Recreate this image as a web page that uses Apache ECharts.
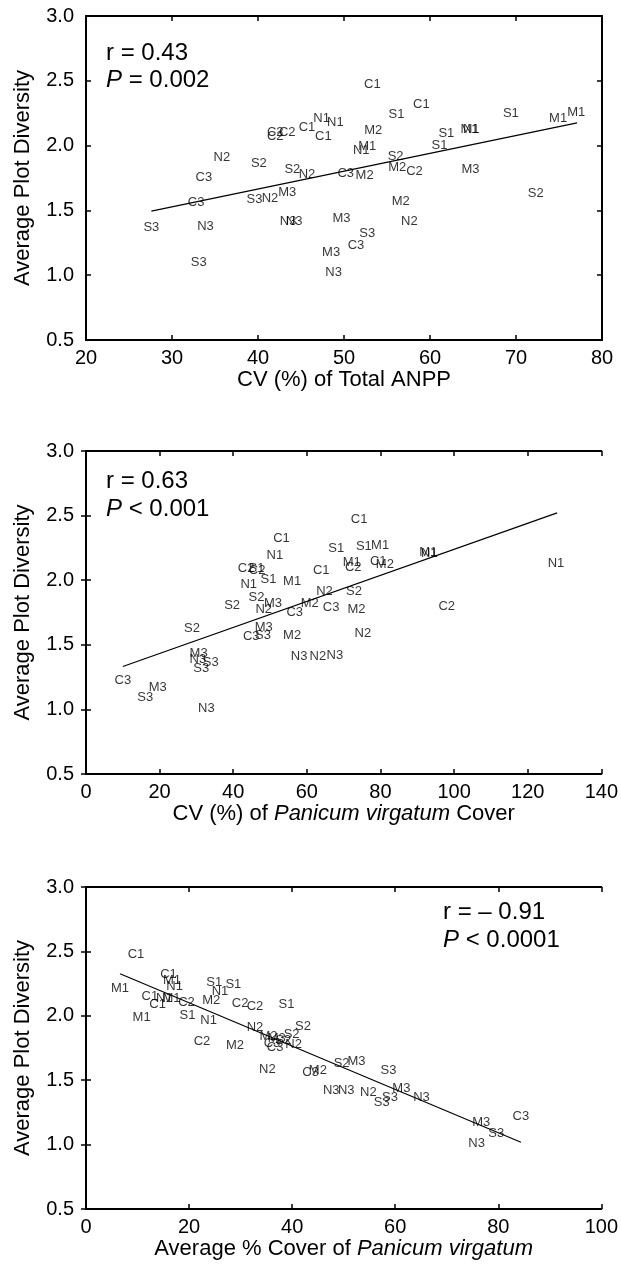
<!DOCTYPE html>
<html>
<head>
<meta charset="utf-8">
<script src="https://cdn.jsdelivr.net/npm/echarts@6/dist/echarts.min.js"></script>
<style>
html,body{margin:0;padding:0;background:#fff;}
#c{width:621px;height:1276px;}
</style>
</head>
<body>
<div id="c"></div>
<script>
// ---------- Panel 1: CV (%) of Total ANPP ----------
const p1Labels = ['S3','N3','S3','C3','C3','N2','S2','S3','N2','M3','S2','N2','N3','N3','M3','M3','N3','C2','C2','C2','C1','N1','N1','C1','C3','M2','C1','C1','S1','M2','M1','N1','S2','M2','C2','S1','S1','M1','N1','M3','S1','M1','M1','S2','M2','N2','S3','C3'];
const p1X = [27.6,33.9,33.1,32.8,33.7,35.8,40.1,39.6,41.4,43.4,44.0,45.7,43.5,44.2,49.7,48.5,48.8,42.0,42.0,43.4,45.7,47.4,49.0,47.6,50.2,52.4,53.3,59.0,56.1,53.4,52.7,52.0,56.0,56.2,58.2,61.9,61.1,64.6,64.8,64.7,69.4,74.9,77.0,72.3,56.6,57.6,52.7,51.4];
const p1Y = [1.367,1.375,1.098,1.559,1.751,1.910,1.859,1.585,1.592,1.636,1.815,1.777,1.418,1.418,1.438,1.175,1.021,2.098,2.072,2.098,2.141,2.208,2.182,2.072,1.782,1.769,2.469,2.321,2.238,2.118,1.990,1.962,1.918,1.828,1.802,2.092,2.000,2.128,2.128,1.815,2.251,2.213,2.259,1.628,1.572,1.413,1.323,1.231];
const p1LineX = [27.6, 77.1];
const p1LineY = [1.495, 2.175];
const p1XTicks = [20, 80, 10];

// ---------- Panel 2: CV (%) of Panicum virgatum Cover ----------
const p2Labels = ['C3','S3','M3','N3','M3','N3','S3','S3','S2','S2','S2','N2','M3','M3','C3','S3','M2','N3','N2','N3','C3','M2','N2','C3','C1','M1','S1','N1','C2','S1','C2','N1','C1','S1','S2','C1','S1','M1','M1','C2','C1','M2','M1','N1','N1','C2','M2','N2'];
const p2X = [10.0,16.1,19.5,32.7,30.6,30.4,33.9,31.3,28.8,39.7,46.3,48.3,50.8,48.3,44.9,48.1,56.0,57.9,63.0,67.6,56.7,60.8,64.8,66.6,63.9,56.0,49.6,44.2,43.5,46.3,46.5,51.3,53.1,68.0,72.8,74.2,75.5,79.9,72.2,72.6,79.4,81.2,93.0,93.3,127.7,98.0,73.5,75.2];
const p2Y = [1.223,1.092,1.172,1.006,1.436,1.384,1.362,1.319,1.624,1.805,1.867,1.771,1.823,1.637,1.564,1.570,1.570,1.409,1.409,1.415,1.750,1.823,1.913,1.789,2.076,1.991,2.004,1.970,2.095,2.090,2.076,2.190,2.322,2.244,1.913,2.474,2.262,2.267,2.138,2.102,2.146,2.120,2.216,2.208,2.133,1.797,1.771,1.591];
const p2LineX = [10.0, 128.0];
const p2LineY = [1.332, 2.521];
const p2XTicks = [0, 140, 20];

// ---------- Panel 3: Average % Cover of Panicum virgatum ----------
const p3Labels = ['C1','M1','M1','C1','C1','N1','M1','C1','M1','N1','C2','S1','C2','N1','M2','S1','N1','S1','C2','C2','M2','N2','S1','N2','M2','M3','S2','C3','C3','N2','S2','S2','C3','M2','S2','M3','S3','N3','N3','N2','S3','S3','M3','N3','M3','S3','N3','C3'];
const p3X = [9.7,6.6,10.8,13.9,12.4,15.2,16.6,16.0,16.7,17.2,19.5,19.7,22.5,23.8,24.3,24.9,26.0,28.6,29.9,32.8,28.9,32.8,38.9,35.2,35.4,37.0,38.3,36.1,36.7,40.3,39.9,42.1,43.6,45.0,49.6,52.5,58.7,47.6,50.5,54.8,57.4,59.0,61.2,65.1,76.7,79.6,75.8,84.4];
const p3Y = [2.480,2.215,1.990,2.085,2.150,2.135,2.135,2.325,2.275,2.225,2.100,2.005,1.800,1.963,2.119,2.259,2.190,2.246,2.093,2.075,1.769,1.912,2.091,1.586,1.840,1.825,1.810,1.785,1.757,1.775,1.858,1.917,1.562,1.574,1.632,1.645,1.575,1.419,1.419,1.404,1.326,1.368,1.437,1.368,1.170,1.088,1.010,1.217];
const p3LineX = [6.6, 84.4];
const p3LineY = [2.327, 1.018];
const p3XTicks = [0, 100, 20];

const yTicks = [0.5, 3.0, 0.5];
const yTitle = 'Average Plot Diversity';
const xTitles = ['CV (%) of Total ANPP', 'CV (%) of {i|Panicum virgatum} Cover', 'Average % Cover of {i|Panicum virgatum}'];
const stats = [['r = 0.43', '{i|P} = 0.002'], ['r = 0.63', '{i|P} < 0.001'], ['r = \u2013 0.91', '{i|P} < 0.0001']];

const FONT = '"Liberation Sans", Arial, Helvetica, sans-serif';
const chart = echarts.init(document.getElementById('c'), null, {renderer: 'canvas'});

const grids = [
  {left: 86, top: 16, width: 516, height: 324},
  {left: 86, top: 451, width: 516, height: 323},
  {left: 86, top: 887, width: 516, height: 322}
];
const xt = [p1XTicks, p2XTicks, p3XTicks];
const lines = [[p1LineX, p1LineY], [p2LineX, p2LineY], [p3LineX, p3LineY]];
const pts = [[p1Labels, p1X, p1Y], [p2Labels, p2X, p2Y], [p3Labels, p3X, p3Y]];

const axisLine = {show: true, lineStyle: {color: '#000', width: 2}};
const axisTick = {show: true, inside: true, length: 5, lineStyle: {color: '#000', width: 1.5}};

const xAxes = [], yAxes = [], series = [];
for (let i = 0; i < 3; i++) {
  const [xmin, xmax, xint] = xt[i];
  xAxes.push({
    type: 'value', gridIndex: i, position: 'bottom', min: xmin, max: xmax, interval: xint,
    axisLine, axisTick, splitLine: {show: false},
    axisLabel: {show: true, margin: 8, color: '#000', fontSize: 20, fontFamily: FONT},
    name: xTitles[i], nameLocation: 'middle', nameGap: 29,
    nameTextStyle: {color: '#000', fontSize: 22, fontFamily: FONT,
      rich: {i: {fontStyle: 'italic', fontSize: 22, fontFamily: FONT, color: '#000'}}}
  });
  xAxes.push({
    type: 'value', gridIndex: i, position: 'top', min: xmin, max: xmax, interval: xint,
    axisLine, axisTick, splitLine: {show: false}, axisLabel: {show: false}
  });
  yAxes.push({
    type: 'value', gridIndex: i, position: 'left', min: yTicks[0], max: yTicks[1], interval: yTicks[2],
    axisLine, axisTick, splitLine: {show: false},
    axisLabel: {show: true, margin: 12, color: '#000', fontSize: 20, fontFamily: FONT,
      formatter: v => v.toFixed(1)},
    name: yTitle, nameLocation: 'middle', nameGap: 52,
    nameTextStyle: {color: '#000', fontSize: 22, fontFamily: FONT}
  });
  yAxes.push({
    type: 'value', gridIndex: i, position: 'right', min: yTicks[0], max: yTicks[1], interval: yTicks[2],
    axisLine, axisTick, splitLine: {show: false}, axisLabel: {show: false}
  });
  const [lab, xs, ys] = pts[i];
  series.push({
    type: 'scatter', xAxisIndex: 2 * i, yAxisIndex: 2 * i,
    symbol: 'circle', symbolSize: 1,
    itemStyle: {color: 'rgba(0,0,0,0)'},
    label: {show: true, position: 'inside', formatter: p => p.name,
      color: '#000', fontSize: 13, fontFamily: FONT},
    emphasis: {disabled: true},
    data: lab.map((n, k) => ({name: n, value: [xs[k], ys[k]]})),
    z: 3
  });
  const [lx, ly] = lines[i];
  series.push({
    type: 'line', xAxisIndex: 2 * i, yAxisIndex: 2 * i,
    symbol: 'none', lineStyle: {color: '#000', width: 1.2},
    data: lx.map((x, k) => [x, ly[k]]),
    silent: true, z: 2
  });
}

const statPos = [[106, 52, 79], [106, 480, 508], [443, 911, 939]];
const graphic = [];
for (let i = 0; i < 3; i++) {
  const [x, y1, y2] = statPos[i];
  [y1, y2].forEach((y, k) => {
    graphic.push({
      type: 'text', x: x, y: y + 1,
      style: {
        text: stats[i][k], fill: '#000',
        font: '24px ' + FONT, textVerticalAlign: 'middle', textAlign: 'left',
        rich: {i: {fontStyle: 'italic', fontSize: 24, fontFamily: FONT, fill: '#000', color: '#000'}}
      }
    });
  });
}

chart.setOption({
  animation: false,
  backgroundColor: '#fff',
  grid: grids,
  xAxis: xAxes,
  yAxis: yAxes,
  series: series,
  graphic: graphic
});
</script>
</body>
</html>
